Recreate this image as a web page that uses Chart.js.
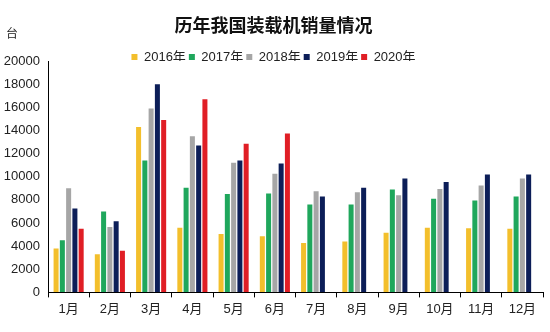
<!DOCTYPE html>
<html>
<head>
<meta charset="utf-8">
<script src="https://cdn.jsdelivr.net/npm/chart.js@4/dist/chart.umd.min.js"></script>
<style>
    html, body { margin: 0; padding: 0; background: #fff; }
    #wrap { width: 550px; height: 332px; }
</style>
</head>
<body>
<div id="wrap"><canvas id="salesChart" width="550" height="332"></canvas></div>
<script>
// Mois
const months = ['1月', '2月', '3月', '4月', '5月', '6月', '7月', '8月', '9月', '10月', '11月', '12月'];

// Ventes mensuelles (unités)
const sales2016 = [3800, 3300, 14300, 5600, 5050, 4850, 4270, 4400, 5150, 5600, 5550, 5500];
const sales2017 = [4500, 7000, 11400, 9050, 8500, 8550, 7600, 7600, 8900, 8100, 7950, 8300];
const sales2018 = [9000, 5650, 15900, 13500, 11200, 10250, 8750, 8650, 8400, 8950, 9250, 9850];
const sales2019 = [7250, 6150, 18000, 12700, 11400, 11150, 8300, 9050, 9850, 9550, 10200, 10200];
const sales2020 = [5500, 3600, 14900, 16700, 12850, 13750, null, null, null, null, null, null];

const yTicks = [0, 2000, 4000, 6000, 8000, 10000, 12000, 14000, 16000, 18000, 20000];

document.addEventListener('DOMContentLoaded', function() {
    initChart();
});

// Petit plugin pour l'unité en haut à gauche
const unitLabel = {
    id: 'unitLabel',
    afterDraw(chart) {
        const ctx = chart.ctx;
        ctx.save();
        ctx.font = '12px "Noto Sans CJK SC"';
        ctx.fillStyle = '#222';
        ctx.textAlign = 'left';
        ctx.textBaseline = 'middle';
        ctx.fillText('台', 6, 33);
        ctx.restore();
    }
};

function initChart() {
    const ctx = document.getElementById('salesChart');
    const tickFont = { family: '"Liberation Sans", Arial, "Noto Sans CJK SC"', size: 13 };

    window.salesChart = new Chart(ctx, {
        type: 'bar',
        data: {
            labels: months,
            datasets: [
                { label: '2016年', data: sales2016, backgroundColor: '#F3BF2C' },
                { label: '2017年', data: sales2017, backgroundColor: '#1FA75C' },
                { label: '2018年', data: sales2018, backgroundColor: '#A6A6A6' },
                { label: '2019年', data: sales2019, backgroundColor: '#0C1E58' },
                { label: '2020年', data: sales2020, backgroundColor: '#E01E25' }
            ]
        },
        options: {
            responsive: false,
            animation: false,
            devicePixelRatio: 1,
            layout: {
                padding: { top: 0, left: 4, right: 7, bottom: 11 }
            },
            datasets: {
                bar: { categoryPercentage: 0.76, barPercentage: 0.8 }
            },
            plugins: {
                title: {
                    display: true,
                    text: '历年我国装载机销量情况',
                    color: '#111',
                    font: { family: '"Noto Sans CJK SC"', size: 18, weight: 'bold' },
                    padding: { top: 14, bottom: 12 }
                },
                legend: {
                    position: 'top',
                    maxHeight: 13.5,
                    labels: {
                        boxWidth: 6,
                        boxHeight: 6,
                        padding: 3,
                        color: '#222',
                        font: tickFont
                    }
                },
                tooltip: { enabled: false }
            },
            scales: {
                x: {
                    grid: {
                        display: true,
                        drawOnChartArea: false,
                        drawTicks: true,
                        tickLength: 5,
                        color: '#000',
                        offset: true
                    },
                    border: { display: true, color: '#000', width: 1 },
                    ticks: { color: '#222', font: tickFont, padding: 4, maxRotation: 0 }
                },
                y: {
                    min: 0,
                    max: 20000,
                    afterBuildTicks: function(axis) {
                        axis.ticks = yTicks.map(v => ({ value: v }));
                    },
                    afterFit: function(axis) {
                        axis.width = 44;
                    },
                    grid: { display: true, drawOnChartArea: false, drawTicks: false },
                    border: { display: true, color: '#000', width: 1 },
                    ticks: {
                        color: '#222',
                        font: tickFont,
                        padding: 8,
                        callback: function(value) { return String(value); }
                    }
                }
            }
        },
        plugins: [unitLabel]
    });
}
</script>
</body>
</html>
